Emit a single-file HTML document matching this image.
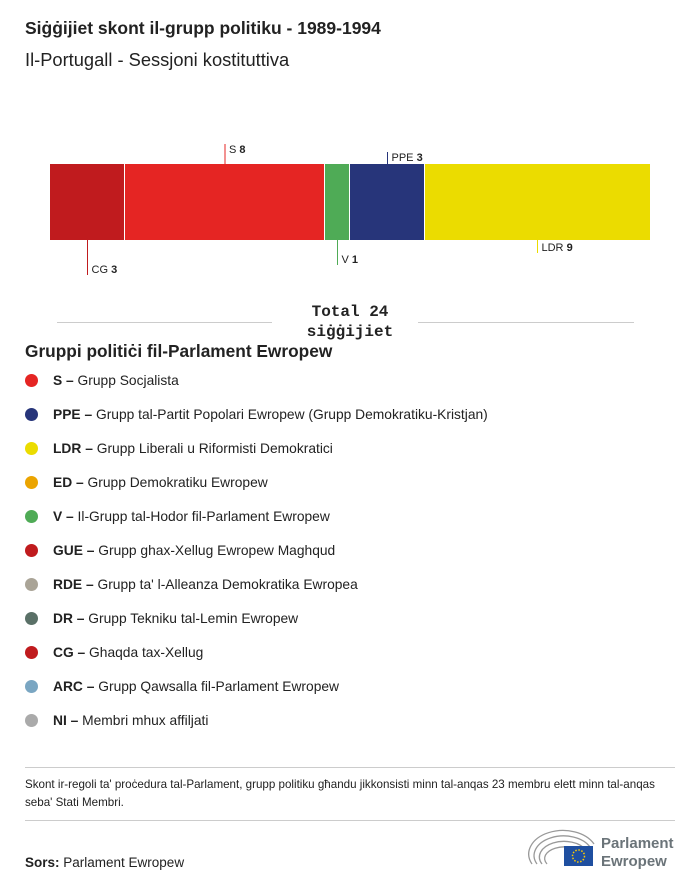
<!DOCTYPE html>
<html><head><meta charset="utf-8"><style>
body{margin:0;width:700px;height:888px;background:#fff;font-family:"Liberation Sans",sans-serif;color:#222;position:relative;overflow:hidden}
.a{position:absolute}
.leg{position:absolute;left:25px;font-size:13.8px;height:20px;line-height:20px;white-space:nowrap}
.leg i{display:inline-block;width:13px;height:13px;border-radius:50%;vertical-align:-2px;margin-right:15px}
</style></head><body>
<div class="a" style="left:25px;top:18px;font-size:17.5px;font-weight:bold">Siġġijiet skont il-grupp politiku - 1989-1994</div>
<div class="a" style="left:25px;top:49px;font-size:18.3px">Il-Portugall - Sessjoni kostituttiva</div>
<svg class="a" style="left:0;top:0" width="700" height="300" id="chart"></svg>
<div class="a" style="left:57px;top:322px;width:215px;height:1px;background:#ccc"></div>
<div class="a" style="left:418px;top:322px;width:216px;height:1px;background:#ccc"></div>
<div class="a" style="left:280px;top:302px;width:140px;text-align:center;font-family:'Liberation Mono',monospace;font-weight:bold;font-size:16px;line-height:20px">Total 24<br>siġġijiet</div>
<div class="a" style="left:25px;top:341px;font-size:17.3px;font-weight:bold">Gruppi politiċi fil-Parlament Ewropew</div>
<div id="legend"></div>
<div class="a" style="left:25px;top:767px;width:650px;height:1px;background:#ccc"></div>
<div class="a" style="left:25px;top:776px;width:650px;font-size:11.6px;line-height:18px">Skont ir-regoli ta' proċedura tal-Parlament, grupp politiku għandu jikkonsisti minn tal-anqas 23 membru elett minn tal-anqas seba' Stati Membri.</div>
<div class="a" style="left:25px;top:820px;width:650px;height:1px;background:#ccc"></div>
<div class="a" style="left:25px;top:855px;font-size:13.5px"><b>Sors:</b> Parlament Ewropew</div>
<svg class="a" style="left:528px;top:828px" width="150" height="44">
<g fill="none" stroke="#999" stroke-width="1.3">
<path d="M4 36 A32 22 0 0 1 66 16"/><path d="M9 36 A27 18 0 0 1 62 19"/><path d="M14 36 A22 14 0 0 1 58 22"/><path d="M19 36 A17 10 0 0 1 54 25"/></g>
<rect x="36" y="18" width="29" height="20" fill="#1f4fa0"/>
<circle cx="50.5" cy="28" r="6" fill="none" stroke="#fc0" stroke-dasharray="1.5 1.6" stroke-width="1.5"/>
<text x="73" y="20" font-size="15" font-weight="bold" fill="#6b7479" font-family="Liberation Sans">Parlament</text>
<text x="73" y="38" font-size="15" font-weight="bold" fill="#6b7479" font-family="Liberation Sans">Ewropew</text>
</svg>
<script>
const parties=["CG","S","V","PPE","LDR"];
const seats=[3,8,1,3,9];
const colors=["#c01b1e","#e52523","#4fab56","#27357a","#ebdc00"];
const labelSide=["below","above","below","above","below"];
const labelLen=[35,20,25,12,13];
const legCodes=["S","PPE","LDR","ED","V","GUE","RDE","DR","CG","ARC","NI"];
const legNames=["Grupp Socjalista","Grupp tal-Partit Popolari Ewropew (Grupp Demokratiku-Kristjan)","Grupp Liberali u Riformisti Demokratici","Grupp Demokratiku Ewropew","Il-Grupp tal-Hodor fil-Parlament Ewropew","Grupp ghax-Xellug Ewropew Maghqud","Grupp ta' l-Alleanza Demokratika Ewropea","Grupp Tekniku tal-Lemin Ewropew","Ghaqda tax-Xellug","Grupp Qawsalla fil-Parlament Ewropew","Membri mhux affiljati"];
const legColors=["#e52523","#27357a","#ebdc00","#eba400","#4fab56","#c01b1e","#aaa497","#5a7067","#c01b1e","#7aa6c2","#aaaaaa"];
const svg=document.getElementById('chart');const NS="http://www.w3.org/2000/svg";
const total=seats.reduce((a,b)=>a+b,0);
const x0=50,W=600,y0=164,H=76;
const sx=v=>x0+v/total*W;
let cum=0;
seats.forEach((s,i)=>{
 const r=document.createElementNS(NS,'rect');
 r.setAttribute('x',sx(cum));r.setAttribute('y',y0);r.setAttribute('width',sx(cum+s)-sx(cum)-(i<seats.length-1?1:0));r.setAttribute('height',H);r.setAttribute('fill',colors[i]);
 
 
 svg.appendChild(r);
 const mx=sx(cum+s/2);
 const l=document.createElementNS(NS,'line');
 let ya,yb,ty;
 if(labelSide[i]=="above"){ya=y0;yb=y0-labelLen[i];ty=yb+9;}else{ya=y0+H;yb=y0+H+labelLen[i];ty=yb-2;}
 l.setAttribute('x1',mx);l.setAttribute('x2',mx);l.setAttribute('y1',ya);l.setAttribute('y2',yb);l.setAttribute('stroke',colors[i]);
 
 
 svg.appendChild(l);
 const t=document.createElementNS(NS,'text');
 t.setAttribute('x',mx+4);t.setAttribute('y',ty);t.setAttribute('font-size','11');t.setAttribute('font-family','Liberation Sans');t.setAttribute('fill','#222');
 t.innerHTML=parties[i]+' <tspan font-weight="bold">'+s+'</tspan>';
 
 
 svg.appendChild(t);
 cum+=s;
});
const lg=document.getElementById('legend');
legCodes.forEach((c,i)=>{
 const d=document.createElement('div');d.className='leg';d.style.top=(371+i*34)+'px';
 d.innerHTML='<i style="background:'+legColors[i]+'"></i><b>'+c+' –</b> '+legNames[i];
 
 
 lg.appendChild(d);
});
</script>
</body></html>
